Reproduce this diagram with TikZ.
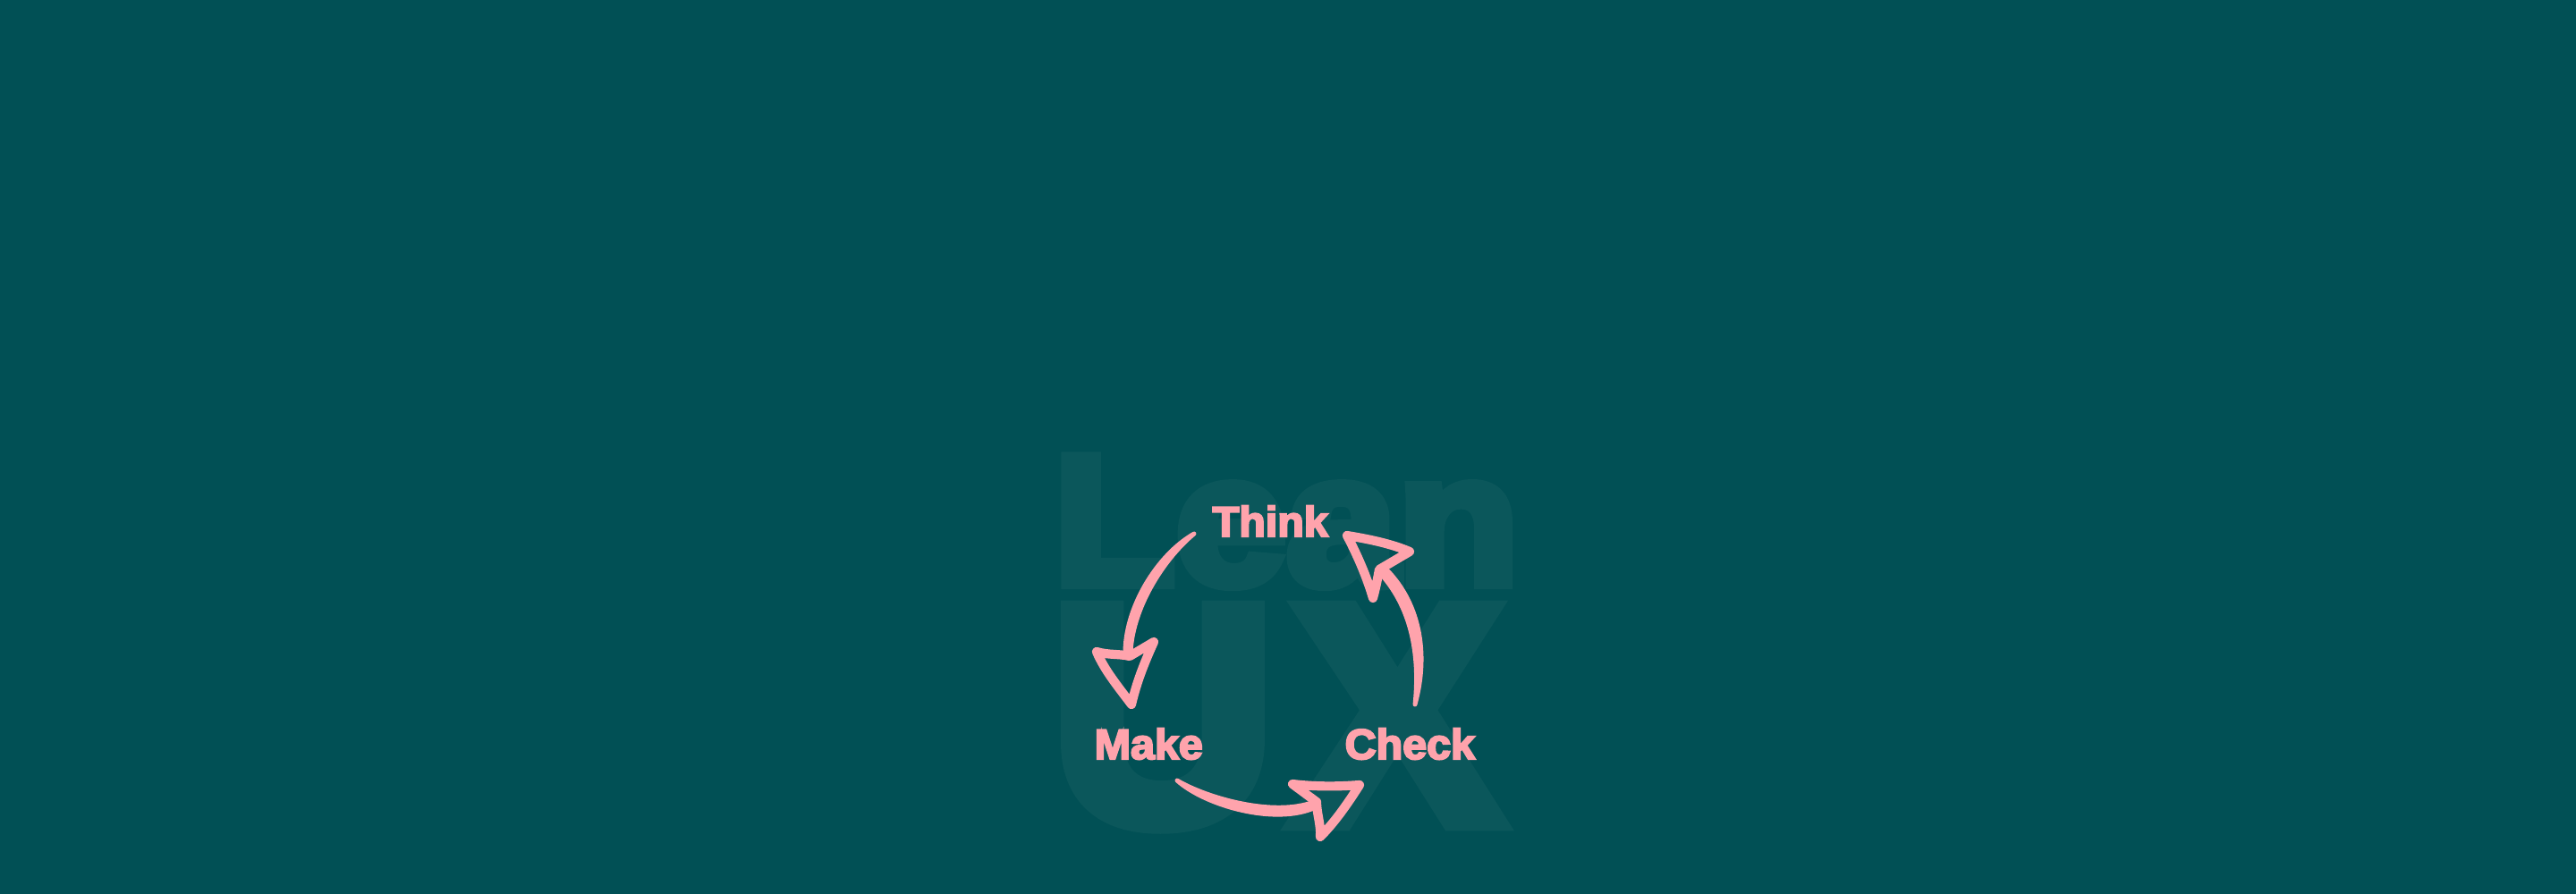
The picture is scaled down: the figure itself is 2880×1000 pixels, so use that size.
\documentclass[tikz,border=0pt]{standalone}
\usepackage{fontspec}
\newfontfamily\heavyfont[FakeBold=4.5, FakeStretch=1.02]{Liberation Sans Bold}
\newfontfamily\ghostfont[FakeBold=6]{Liberation Sans Bold}
\newfontfamily\leanfont[FakeBold=6, FakeStretch=1.085]{Liberation Sans Bold}
\definecolor{lakebg}{HTML}{015055}
\definecolor{lakeghost}{HTML}{0B575B}
\definecolor{sketchpink}{HTML}{FFA3AC}

\begin{document}
\begin{tikzpicture}[
    x=0.01cm, y=-0.01cm,
    ghost/.style={anchor=base west, inner sep=0pt, text=lakeghost},
    stage/.style={anchor=base west, inner sep=0pt, text=sketchpink, font=\heavyfont\fontsize{13.5}{14}\selectfont},
    shaft/.style={fill=sketchpink, draw=sketchpink, line width=1.4pt, line join=round},
    barb/.style={draw=sketchpink, line width=2.9pt, line join=round, line cap=round},
]

% Backdrop
\fill[lakebg] (0,0) rectangle (2880,1000);
\useasboundingbox (0,0) rectangle (2880,1000);

% Ghost wordmark
\node[ghost, font=\leanfont\fontsize{58.5}{60}\selectfont] (lean) at (1177,653) {Lean};
\node[ghost, font=\ghostfont\fontsize{98}{100}\selectfont] (ux) at (1175,919) {U\kern6.5pt X};

% Stage labels
\node[stage] (think) at (1355,600) {Think};
\node[stage] (make) at (1223,849) {Make};
\node[stage] (check) at (1503,849) {Check};

% Free ends of the arrows
\coordinate (thinkout) at (1335,597);
\coordinate (makeinl) at (1258,732);
\coordinate (makeinr) at (1264,732);
\coordinate (makeout) at (1316,873);
\coordinate (checkinl) at (1469,897);
\coordinate (checkinr) at (1471,903);
\coordinate (checkout) at (1582,788);
\coordinate (thinkinl) at (1541,639);
\coordinate (thinkinr) at (1547,634);

% Think to Make
\fill[shaft] (thinkout) .. controls (1293,621) and (1257,681) .. (makeinl) -- (makeinr)
    .. controls (1265,683) and (1299,627) .. (thinkout) -- cycle;
\draw[barb] (1226,729) .. controls (1240,733) and (1250,731) .. (1263,734) -- (1290,718)
    .. controls (1280,740) and (1271,762) .. (1265,788)
    .. controls (1250,768) and (1235,750) .. cycle;

% Make to Check
\fill[shaft] (makeout) .. controls (1350,893) and (1424,914) .. (checkinl) -- (checkinr)
    .. controls (1426,924) and (1347,901) .. (makeout) -- cycle;
\draw[barb] (1445,877) .. controls (1470,880) and (1495,880) .. (1520,878)
    .. controls (1506,900) and (1492,920) .. (1476,936)
    .. controls (1477,922) and (1472,910) .. (1472,897) -- cycle;

% Check to Think
\fill[shaft] (checkout) .. controls (1598,730) and (1587,672) .. (thinkinr) -- (thinkinl)
    .. controls (1577,677) and (1588,730) .. (checkout) -- cycle;
\draw[barb] (1506,599) .. controls (1530,603) and (1555,608) .. (1576,617) -- (1542,637)
    .. controls (1540,648) and (1538,658) .. (1535,669)
    .. controls (1528,645) and (1518,622) .. cycle;

\end{tikzpicture}
\end{document}
